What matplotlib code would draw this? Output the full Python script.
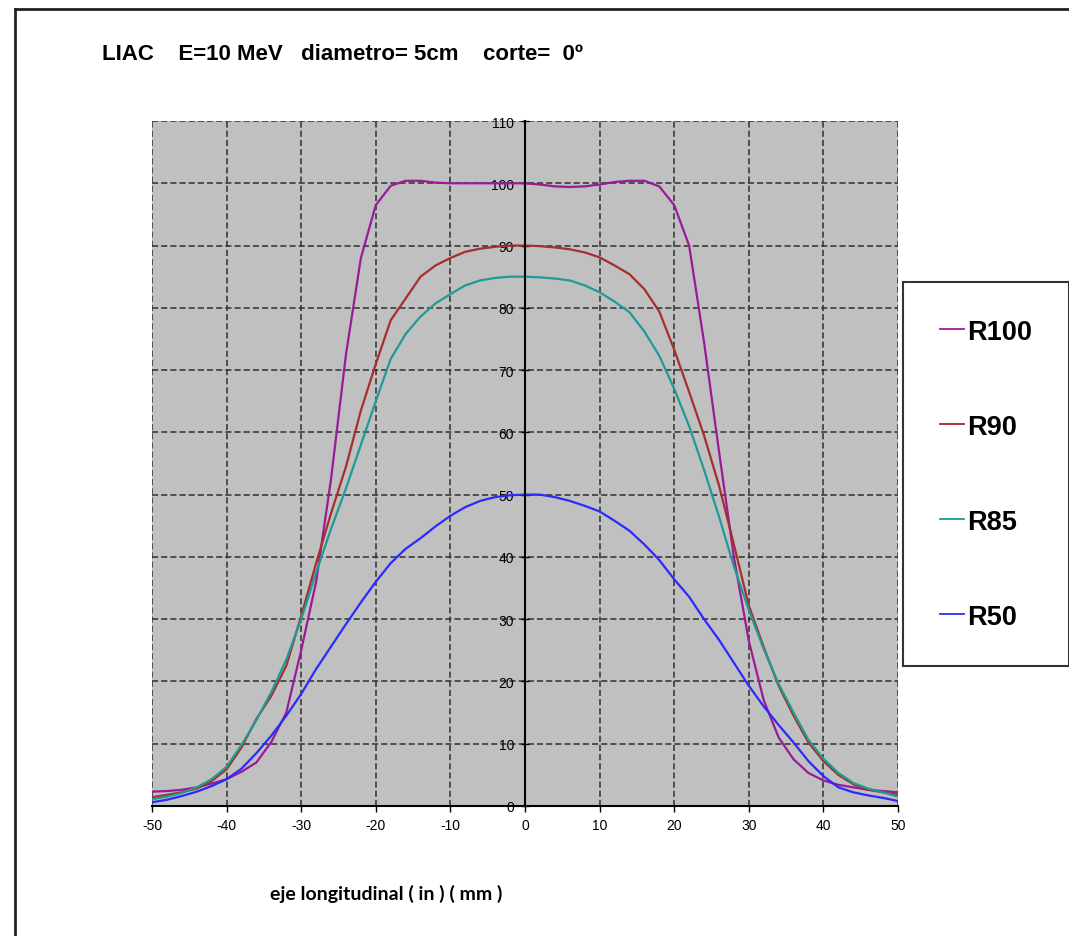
import matplotlib
matplotlib.use("Agg")
import matplotlib.pyplot as plt
from matplotlib.lines import Line2D

plt.rcParams['font.family'] = ['Liberation Sans', 'DejaVu Sans']
plt.rcParams['axes.unicode_minus'] = False

# eje longitudinal (mm)
x = [-50, -48, -46, -44, -42, -40, -38, -36, -34, -32, -30, -28, -26, -24, -22,
     -20, -18, -16, -14, -12, -10, -8, -6, -4, -2, 0, 2, 4, 6, 8, 10, 12, 14,
     16, 18, 20, 22, 24, 26, 28, 30, 32, 34, 36, 38, 40, 42, 44, 46, 48, 50]

r100 = [2.3, 2.4, 2.6, 3.0, 3.6, 4.3, 5.5, 7.0, 10.3, 15.0, 25.0, 36.0, 52.5,
        72.5, 88.0, 96.5, 99.6, 100.4, 100.4, 100.1, 100.0, 100.0, 100.0, 100.0,
        100.0, 100.0, 99.8, 99.5, 99.4, 99.5, 99.8, 100.2, 100.4, 100.4, 99.5,
        96.5, 90.0, 74.5, 57.0, 40.0, 26.5, 17.0, 11.0, 7.5, 5.3, 4.1, 3.4, 3.0,
        2.6, 2.4, 2.2]
r90 = [1.4, 1.8, 2.2, 2.8, 4.0, 5.9, 9.4, 14.0, 17.7, 22.5, 30.5, 39.0, 47.0,
       54.5, 63.5, 71.0, 78.0, 81.5, 85.0, 86.8, 88.0, 89.0, 89.5, 89.8, 90.0,
       90.0, 89.9, 89.7, 89.4, 88.9, 88.1, 86.8, 85.4, 83.0, 79.4, 73.3, 66.5,
       59.5, 51.5, 42.0, 32.2, 25.5, 19.3, 14.5, 10.2, 7.2, 5.0, 3.5, 2.6, 2.2,
       1.8]
r85 = [1.1, 1.5, 2.1, 3.0, 4.3, 6.3, 9.8, 13.8, 18.3, 23.5, 30.0, 37.5, 44.5,
       51.0, 58.0, 65.0, 71.8, 75.8, 78.6, 80.7, 82.2, 83.6, 84.4, 84.8, 85.0,
       85.0, 84.9, 84.7, 84.4, 83.6, 82.5, 81.0, 79.3, 76.2, 72.3, 67.0, 61.0,
       54.0, 46.5, 38.5, 31.5, 25.2, 19.6, 15.0, 10.6, 7.6, 5.3, 3.7, 2.8, 2.2,
       1.5]
r50 = [0.6, 1.0, 1.6, 2.3, 3.2, 4.3, 6.0, 8.5, 11.3, 14.5, 18.0, 22.0, 25.6,
       29.2, 32.7, 36.0, 39.0, 41.3, 43.0, 44.9, 46.6, 48.0, 49.0, 49.6, 49.9,
       50.0, 50.0, 49.6, 49.0, 48.2, 47.3, 45.8, 44.2, 42.0, 39.5, 36.4, 33.6,
       30.0, 26.7, 23.0, 19.3, 16.0, 13.0, 10.2, 7.2, 4.8, 3.0, 2.2, 1.7, 1.3,
       0.8]

series = [("R100", r100, "#9a1a9a"),
          ("R90", r90, "#a3302c"),
          ("R85", r85, "#1f9a96"),
          ("R50", r50, "#2a2aff")]

xticks = list(range(-50, 51, 10))
yticks = list(range(0, 111, 10))

fig = plt.figure(figsize=(10.69, 9.37), dpi=100)
ax = fig.add_axes([152/1069, 1 - 807/937, 746/1069, 685/937])
ax.set_facecolor("#c0c0c0")

for name, ys, col in series:
    ax.plot(x, ys, color=col, lw=1.6, label=name, zorder=3)

ax.set_xlim(-50, 50)
ax.set_ylim(0, 110)
ax.set_xticks(xticks)
ax.set_yticks(yticks)
ax.grid(True, color="#303030", linestyle=(0, (4, 2)), lw=1.1, zorder=1)
ax.set_axisbelow(True)

# eje vertical en x=0
ax.spines["left"].set_position(("data", 0))
ax.spines["left"].set_linewidth(1.5)
ax.spines["left"].set_zorder(4)
ax.spines["bottom"].set_linewidth(1.5)
ax.spines["top"].set_visible(False)
ax.spines["right"].set_visible(False)
ax.tick_params(axis="y", direction="inout", length=6, width=1, pad=5,
               labelsize=10)
ax.tick_params(axis="x", direction="out", length=4, width=1, pad=5,
               labelsize=10)

fig.text(102/1069, 1 - 55/937,
         "LIAC    E=10 MeV   diametro= 5cm    corte=  0º",
         fontsize=16, fontweight="bold", va="center", ha="left")
fig.text(386/1069, 1 - 894/937, "eje longitudinal ( in ) ( mm )",
         fontsize=14, fontweight="bold", va="center", ha="center",
         family=["Lato", "DejaVu Sans"])

leg = fig.legend(loc="upper left", bbox_to_anchor=(903/1069, 1 - 283/937),
                 prop={"weight": "bold", "size": 19.5},
                 frameon=True, fancybox=False, edgecolor="black",
                 handlelength=0.9, handletextpad=0.12, labelspacing=2.55,
                 borderpad=1.35, borderaxespad=0)
leg.get_frame().set_linewidth(1.5)
for h in leg.get_lines():
    h.set_linewidth(1.3)

# marco exterior
fig.add_artist(Line2D([15/1069, 15/1069], [1 - 10/937, 0], color="#222222",
                      lw=2, transform=fig.transFigure))
fig.add_artist(Line2D([15/1069, 1], [1 - 10/937, 1 - 10/937], color="#222222",
                      lw=2, transform=fig.transFigure))

fig.savefig("out.png", dpi=100)
